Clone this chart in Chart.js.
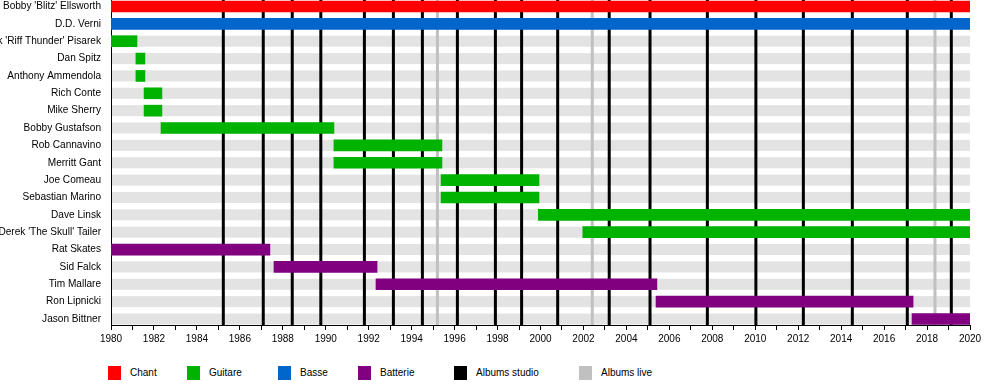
<!DOCTYPE html>
<html>
<head>
<meta charset="utf-8">
<script src="https://cdn.jsdelivr.net/npm/chart.js@4"></script>
<style>
    html, body { margin: 0; padding: 0; background: #fff; }
    body { width: 1000px; height: 384px; position: relative; overflow: hidden; font-family: "Liberation Sans", Arial, sans-serif; }
    #wrap { position: absolute; left: 0; top: 0; width: 1000px; height: 350px; }
    .leg { position: absolute; top: 366px; height: 14px; font-size: 10px; line-height: 14px; color: #000; white-space: nowrap; }
    .leg span { position: absolute; left: 0; top: 0; width: 13px; height: 14px; }
    .leg b { font-weight: normal; position: absolute; left: 22px; top: 0; }
</style>
</head>
<body>
<div id="wrap"><canvas id="chart"></canvas></div>
<div id="legend"></div>
<script>
const MEMBERS = [
    "Bobby 'Blitz' Ellsworth", 'D.D. Verni', "Jack 'Riff Thunder' Pisarek", 'Dan Spitz',
    'Anthony Ammendola', 'Rich Conte', 'Mike Sherry', 'Bobby Gustafson', 'Rob Cannavino',
    'Merritt Gant', 'Joe Comeau', 'Sebastian Marino', 'Dave Linsk', "Derek 'The Skull' Tailer",
    'Rat Skates', 'Sid Falck', 'Tim Mallare', 'Ron Lipnicki', 'Jason Bittner'
];
// index into ROLES for every member
const ROLE_OF = [0, 2, 1, 1, 1, 1, 1, 1, 1, 1, 1, 1, 1, 1, 3, 3, 3, 3, 3];
const START = [1980, 1980, 1980, 1981.16, 1981.16, 1981.54, 1981.54, 1982.33, 1990.38, 1990.38,
    1995.37, 1995.37, 1999.9, 2001.97, 1980, 1987.59, 1992.34, 2005.38, 2017.3];
const END = [2020, 2020, 1981.21, 1981.58, 1981.58, 1982.37, 1982.37, 1990.38, 1995.41, 1995.41,
    1999.93, 1999.93, 2020, 2020, 1987.4, 1992.39, 2005.42, 2017.35, 2020];

const ROLES = ['Chant', 'Guitare', 'Basse', 'Batterie'];
const ROLE_COLORS = ['#ff0000', '#00b300', '#0066cc', '#800080'];

const STUDIO_ALBUMS = [1985.23, 1987.09, 1988.44, 1989.77, 1991.8, 1993.15, 1994.5, 1996.13, 1997.9,
    1999.12, 2000.8, 2003.2, 2005.1, 2007.77, 2010.03, 2012.24, 2014.52, 2017.08, 2019.13];
const LIVE_ALBUMS = [1995.2, 2002.41, 2018.37];

const YEAR_MIN = 1980;
const YEAR_MAX = 2020;

const LEGEND = [
    { text: 'Chant', color: ROLE_COLORS[0], left: 108 },
    { text: 'Guitare', color: ROLE_COLORS[1], left: 187 },
    { text: 'Basse', color: ROLE_COLORS[2], left: 278 },
    { text: 'Batterie', color: ROLE_COLORS[3], left: 358 },
    { text: 'Albums studio', color: '#000000', left: 454 },
    { text: 'Albums live', color: '#c0c0c0', left: 579 }
];

const legendEl = document.getElementById('legend');
LEGEND.forEach(item => {
    const d = document.createElement('div');
    d.className = 'leg';
    d.style.left = item.left + 'px';
    d.innerHTML = `<span style="background:${item.color}"></span><b>${item.text}</b>`;
    legendEl.appendChild(d);
});

// grey row bands and album lines, drawn behind the bars
const backdrop = {
    id: 'backdrop',
    beforeDatasetsDraw(chart) {
        const { ctx, chartArea, scales: { x, y } } = chart;
        const x0 = x.getPixelForValue(YEAR_MIN) + 1;
        const x1 = x.getPixelForValue(YEAR_MAX);
        ctx.save();
        ctx.fillStyle = '#e3e3e3';
        MEMBERS.forEach((_, i) => {
            const py = y.getPixelForValue(i);
            ctx.fillRect(x0, py - 5.5, x1 - x0, 11);
        });
        const drawLines = (years, color) => {
            ctx.strokeStyle = color;
            ctx.lineWidth = 3;
            years.forEach(v => {
                const px = x.getPixelForValue(v);
                ctx.beginPath();
                ctx.moveTo(px, chartArea.top);
                ctx.lineTo(px, chartArea.bottom);
                ctx.stroke();
            });
        };
        drawLines(LIVE_ALBUMS, '#c0c0c0');
        drawLines(STUDIO_ALBUMS, '#000000');
        ctx.restore();
    }
};

Chart.defaults.color = '#000';
Chart.defaults.font.family = '"Liberation Sans", Arial, sans-serif';
Chart.defaults.font.size = 10;

const datasets = ROLES.map((role, r) => ({
    label: role,
    data: MEMBERS.map((_, i) => i).filter(i => ROLE_OF[i] === r).map(i => ({ x: [START[i], END[i]], y: i })),
    backgroundColor: ROLE_COLORS[r],
    borderWidth: 0,
    barThickness: 11,
    grouped: false
}));

new Chart(document.getElementById('chart'), {
    type: 'bar',
    data: { datasets },
    options: {
        indexAxis: 'y',
        responsive: true,
        maintainAspectRatio: false,
        animation: false,
        layout: { padding: { left: 0, right: 30, top: 0, bottom: 0 } },
        plugins: { legend: { display: false }, tooltip: { enabled: false } },
        scales: {
            x: {
                type: 'linear',
                min: YEAR_MIN,
                max: YEAR_MAX,
                grid: { drawOnChartArea: false, tickLength: 5, color: '#000' },
                border: { color: '#000', width: 1 },
                ticks: {
                    stepSize: 1,
                    autoSkip: false,
                    maxRotation: 0,
                    padding: 3,
                    callback: v => (v % 2 === 0 ? String(v) : '')
                },
                afterFit: s => { s.height = 25; s.paddingLeft = 0; s.paddingRight = 0; }
            },
            y: {
                type: 'linear',
                reverse: true,
                offset: false,
                min: -0.374,
                max: 18.346,
                grid: { drawOnChartArea: false, drawTicks: false },
                border: { color: '#000', width: 1 },
                ticks: {
                    autoSkip: false,
                    padding: 10,
                    font: { size: 10.1 },
                    callback: v => MEMBERS[v] ?? ''
                },
                afterBuildTicks: s => { s.ticks = MEMBERS.map((_, i) => ({ value: i })); },
                afterFit: s => { s.width = 111; s.paddingTop = 0; s.paddingBottom = 0; }
            }
        }
    },
    plugins: [backdrop]
});
</script>
</body>
</html>
